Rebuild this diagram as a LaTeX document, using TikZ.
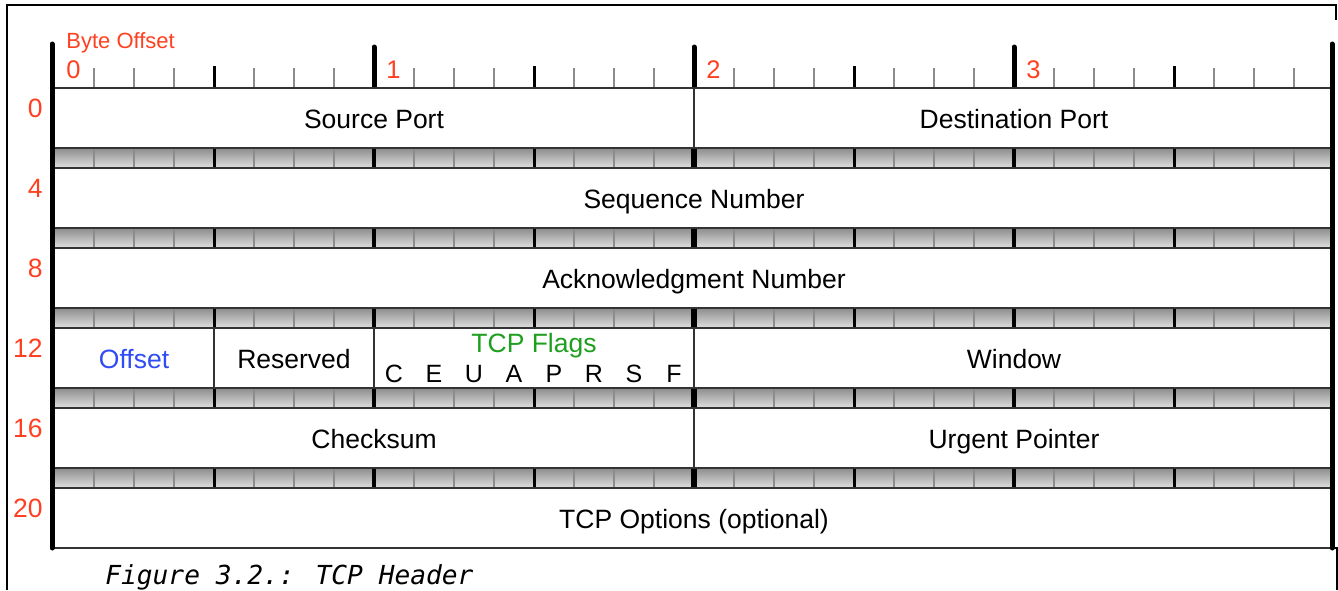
\documentclass[tikz,border=0pt]{standalone}
\usepackage{fontspec}
\setmainfont{Liberation Sans}
\newfontfamily\captionmono{DejaVu Sans Mono}
\definecolor{offsetred}{HTML}{FF4020}
\definecolor{fieldblue}{HTML}{2F4CF5}
\definecolor{flaggreen}{HTML}{1F9F1F}
\tikzset{
  field/.style={font={\fontsize{13.25}{16}\selectfont}, inner sep=0pt, anchor=base},
  flagbit/.style={font={\fontsize{12.5}{15}\selectfont}, inner sep=0pt, anchor=base},
  rowlabel/.style={font={\fontsize{13.25}{16}\selectfont}, text=offsetred, inner sep=0pt, anchor=base east},
  bytedigit/.style={font={\fontsize{12.75}{15}\selectfont}, text=offsetred, inner sep=0pt, anchor=base west},
  rowbox/.style={draw=black!80, fill=white, line width=1pt},
  divider/.style={draw=black!80, line width=1pt},
  bittick/.style={draw=black!45, line width=1pt},
  nibbletick/.style={draw=black, line width=1.5pt},
  bytetick/.style={draw=black, line width=2.5pt, line cap=round},
}
\begin{document}
\begin{tikzpicture}[x=0.5pt,y=-0.5pt]
  \useasboundingbox (0,0) rectangle (1338,590);
  % page frame
  \draw[line width=1pt] (1336,20) -- (1336,5) -- (7,5) -- (7,590);
  \draw[line width=1pt] (1333,548) -- (1337,548) -- (1337,590);

  % gray strips between the rows
  \foreach \r in {0,...,4} {
    \shade[top color=black!45, bottom color=black!12] (54,148+80*\r) rectangle (1334,168+80*\r);
    \foreach \b in {1,...,31}
      \draw[bittick] (54+40*\b,148+80*\r) -- (54+40*\b,168+80*\r);
    \foreach \b in {4,12,20,28}
      \draw[nibbletick] (54+40*\b,148+80*\r) -- (54+40*\b,168+80*\r);
    \foreach \b in {8,24}
      \draw[draw=black, line width=1.9pt] (54+40*\b,148+80*\r) -- (54+40*\b,168+80*\r);
    \draw[draw=black, line width=3pt] (694,148+80*\r) -- (694,168+80*\r);
  }

  % bit ruler
  \foreach \b in {1,...,31}
    \draw[bittick] (54+40*\b,68) -- (54+40*\b,88);
  \foreach \b in {4,12,20,28}
    \draw[nibbletick] (54+40*\b,66) -- (54+40*\b,88);
  \foreach \b in {8,16,24}
    \draw[bytetick] (54+40*\b,47) -- (54+40*\b,88);

  % rows
  \foreach \r in {0,...,5}
    \draw[rowbox] (54,88+80*\r) rectangle (1334,148+80*\r);
  \draw[divider] (694,88) -- (694,148);
  \draw[divider] (214,328) -- (214,388);
  \draw[divider] (374,328) -- (374,388);
  \draw[divider] (694,328) -- (694,388);
  \draw[divider] (694,408) -- (694,468);

  % side bars
  \draw[bytetick] (52,44) -- (52,548);
  \draw[bytetick] (1332,44) -- (1332,548);

  % offsets
  \node[font={\fontsize{11}{13}\selectfont}, text=offsetred, inner sep=0pt, anchor=base west] (byteoffset) at (66,48) {Byte Offset};
  \foreach \b in {0,...,3}
    \node[bytedigit] (byte\b) at (66+320*\b,78) {\b};
  \foreach \o [count=\r from 0] in {0,4,8,12,16,20}
    \node[rowlabel] (row\o) at (43,117+80*\r) {\o};

  % fields
  \node[field] (srcport) at (374,128) {Source Port};
  \node[field] (dstport) at (1014,128) {Destination Port};
  \node[field] (seqnum) at (694,208) {Sequence Number};
  \node[field] (acknum) at (694,288) {Acknowledgment Number};
  \node[field, text=fieldblue] (offset) at (134,368) {Offset};
  \node[field] (reserved) at (294,368) {Reserved};
  \node[field, text=flaggreen] (flags) at (534,352) {TCP Flags};
  \foreach \f [count=\i from 0] in {C,E,U,A,P,R,S,F}
    \node[flagbit] (flag\f) at (394+40*\i,382) {\f};
  \node[field] (window) at (1014,368) {Window};
  \node[field] (checksum) at (374,448) {Checksum};
  \node[field] (urgent) at (1014,448) {Urgent Pointer};
  \node[field] (options) at (694,528) {TCP Options (optional)};

  \node[font={\captionmono\itshape\fontsize{13.1}{16}\selectfont}, inner sep=0pt, anchor=base west] (caption) at (105,584) {Figure 3.2.: TCP Header};
\end{tikzpicture}
\end{document}
